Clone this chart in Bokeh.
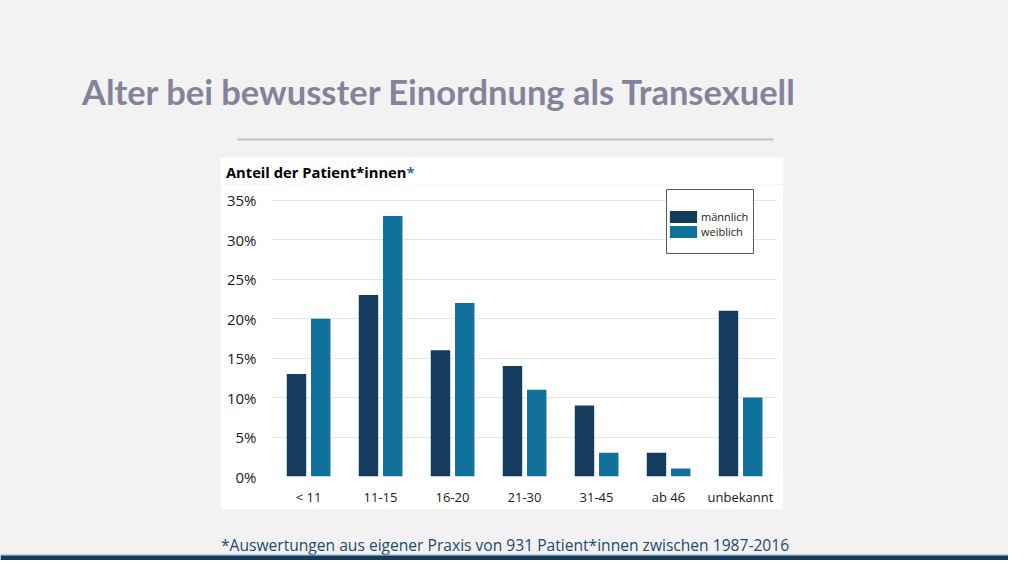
from bokeh.plotting import figure
from bokeh.models import (Range1d, FactorRange, FixedTicker, PrintfTickFormatter,
                          Legend, LegendItem, ColumnDataSource, BoxAnnotation)
from bokeh.layouts import column, row
from bokeh.transform import dodge
from bokeh.embed import file_html
from bokeh.resources import INLINE
from bokeh.core.properties import value

# ---------------- data ----------------
categories = ["< 11", "11-15", "16-20", "21-30", "31-45", "ab 46", "unbekannt"]
maennlich = [13, 23, 16, 14, 9, 3, 21]
weiblich = [20, 33, 22, 11, 3, 1, 10]
y_ticks = [0, 5, 10, 15, 20, 25, 30, 35]
series_names = ["männlich", "weiblich"]

title_text = "Alter bei bewusster Einordnung als Transexuell"
axis_title = "Anteil der Patient*innen"
axis_title_mark = "*"
footnote = "*Auswertungen aus eigener Praxis von 931 Patient*innen zwischen 1987-2016"

BG = "#f2f2f2"
DARK = "#153c5c"
LIGHT = "#10729a"
W = 1008
TOP_H = 184          # title area + top strip of the white panel
PANEL_TOP = 157
CHART_H = 325
BOT_H = 560 - TOP_H - CHART_H
LEFT_W = 220
CHART_W = 563


def deco(w, h, color=BG):
    f = figure(width=w, height=h, x_range=Range1d(0, w), y_range=Range1d(h, 0),
               min_border=0, toolbar_location=None, output_backend="svg",
               x_axis_location=None, y_axis_location=None,
               background_fill_color=color, border_fill_color=color, outline_line_color=None)
    f.xgrid.visible = False
    f.ygrid.visible = False
    return f


# ---------------- top (title + top strip of white panel) ----------------
top = deco(W, TOP_H)
top.text(x=[81.5], y=[91], text=[title_text], text_font=value("Lato"),
         text_font_style="bold", text_font_size="34.5px", text_color="#858399",
         text_baseline="middle", text_align="left")
top.segment(x0=[237], y0=[139], x1=[773], y1=[139], line_width=2, line_color="#c4c4c4")
top.quad(left=[LEFT_W], right=[LEFT_W + CHART_W], top=[PANEL_TOP], bottom=[TOP_H + 1],
         fill_color="white", line_color=None)
top.text(x=[406], y=[171.5], text=[axis_title], text_font=value("Open Sans"),
         text_font_style="bold", text_font_size="14.75px", text_color="#000000",
         text_baseline="middle", text_align="right")
top.text(x=[406], y=[171.5], text=[axis_title_mark], text_font=value("Open Sans"),
         text_font_style="bold", text_font_size="14.75px", text_color="#2f6f99",
         text_baseline="middle", text_align="left")

# ---------------- chart ----------------
p = figure(width=CHART_W, height=CHART_H,
           x_range=FactorRange(*categories, range_padding=0),
           y_range=Range1d(0, 37),
           toolbar_location=None, output_backend="svg",
           min_border_left=52, min_border_right=7, min_border_top=0, min_border_bottom=33,
           background_fill_color="white", border_fill_color="white", outline_line_color=None)

src = ColumnDataSource(dict(cat=categories, m=maennlich, w=weiblich))
rm = p.vbar(x=dodge("cat", -0.167, range=p.x_range), top="m", width=0.27, source=src,
            fill_color=DARK, line_color=None)
rw = p.vbar(x=dodge("cat", 0.17, range=p.x_range), top="w", width=0.27, source=src,
            fill_color=LIGHT, line_color=None)

p.yaxis.ticker = FixedTicker(ticks=y_ticks)
p.yaxis.formatter = PrintfTickFormatter(format="%d%%")
p.ygrid.ticker = FixedTicker(ticks=y_ticks)
p.ygrid.grid_line_color = "#e4e4e4"
p.xgrid.visible = False
for ax in (p.xaxis, p.yaxis):
    ax.axis_line_color = None
    ax.major_tick_line_color = None
    ax.minor_tick_line_color = None
    ax.major_label_text_font = "Open Sans"
    ax.major_label_text_color = "#1a1a1a"
p.yaxis.major_label_text_font_size = "15px"
p.yaxis.major_label_standoff = 10
p.xaxis.major_label_text_font_size = "13px"
p.xaxis.major_label_standoff = 5

# legend frame (white box with grey border)
p.add_layout(BoxAnnotation(left=394, right=481, top=287, bottom=223,
                           left_units="screen", right_units="screen",
                           top_units="screen", bottom_units="screen",
                           fill_color="white", fill_alpha=1,
                           line_color="#595959", line_width=1, line_alpha=1))

legend = Legend(items=[LegendItem(label=series_names[0], renderers=[rm]),
                       LegendItem(label=series_names[1], renderers=[rw])],
                location=(394, 237), glyph_width=34, glyph_height=15, label_height=12,
                label_width=20, label_standoff=1, spacing=0, padding=0, margin=0,
                border_line_color=None, background_fill_alpha=0,
                label_text_font="Open Sans", label_text_font_size="11px",
                label_text_color="#1a1a1a")
p.add_layout(legend)

left = deco(LEFT_W, CHART_H)
right = deco(W - LEFT_W - CHART_W, CHART_H)

# ---------------- bottom ----------------
bottom = deco(W, BOT_H)
bottom.text(x=[220.5], y=[544 - TOP_H - CHART_H], text=[footnote], text_font=value("Open Sans"),
            text_font_size="15.6px", text_color="#1e4a70", text_baseline="middle",
            text_align="left")
bottom.quad(left=[0], right=[W], top=[554 - TOP_H - CHART_H], bottom=[555 - TOP_H - CHART_H],
            fill_color="#9fb1c2", line_color=None)
bottom.quad(left=[0], right=[W], top=[555 - TOP_H - CHART_H], bottom=[BOT_H],
            fill_color="#143c5c", line_color=None)

layout = column(top,
                row(left, p, right, spacing=0),
                bottom, spacing=0, styles={"background-color": BG})

open("out.html", "w").write(file_html(layout, INLINE))
